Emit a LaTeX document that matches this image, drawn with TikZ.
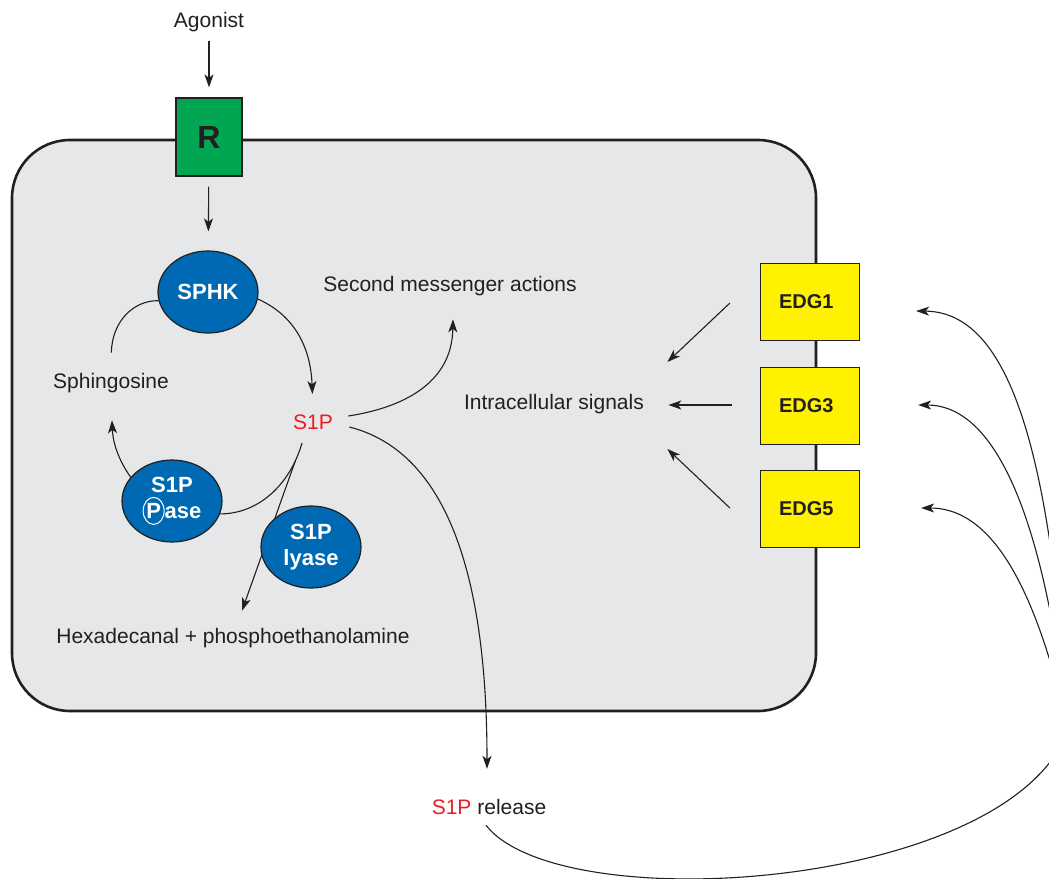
\documentclass[tikz,border=0pt]{standalone}
\usepackage{fontspec}
\setmainfont{Liberation Sans}
\usepackage{tikz}
\usetikzlibrary{arrows.meta,calc,shapes.geometric}
\definecolor{ink}{HTML}{231F20}
\definecolor{cellgray}{HTML}{E6E7E8}
\definecolor{rgreen}{HTML}{00A651}
\definecolor{eblue}{HTML}{0069B4}
\definecolor{edgyellow}{HTML}{FFF200}
\definecolor{s1pred}{HTML}{ED1C24}
\tikzset{>={Stealth[length=13pt,width=9pt,inset=3.5pt]}}
\tikzstyle{txt}=[text=ink, font=\fontsize{21}{25}\selectfont]
\tikzstyle{enzyme}=[
	 ellipse, draw=ink, line width=1.2pt,
	 fill=eblue, text=white,
	 minimum width=100pt, minimum height=82pt, inner sep=0pt,
	 align=center, font=\bfseries\fontsize{22}{26}\selectfont
    ]
\tikzstyle{receptor}=[
	 rectangle, draw=ink, line width=1.2pt,
	 fill=edgyellow, text=ink,
	 minimum width=99pt, minimum height=77pt,
	 font=\bfseries\fontsize{20}{24}\selectfont
    ]
\tikzstyle{flow}=[->, draw=ink, line width=1.1pt]
\tikzstyle{link}=[draw=ink, line width=1.1pt]
\newcommand{\circP}{\tikz[baseline=(cp.base)]\node[ellipse,draw=white,line width=1pt,text=white,inner sep=0pt,minimum width=21pt,minimum height=27pt,font=\bfseries\fontsize{22}{26}\selectfont] (cp) {P};}
\newcommand{\edgSig}[3]{\draw[flow] ($(#1.west)+(#2)$) -- ($(sig.east)+(#3)$)}

\begin{document}
\begin{tikzpicture}[x=1pt,y=-1pt]
\useasboundingbox (0,0) rectangle (1049,878);
\clip (0,0) rectangle (1049,878);

\draw[fill=cellgray, draw=ink, line width=2.6pt, rounded corners=58pt] (12,140) rectangle (816,711);

\node[txt] (ago) at (209,22) {Agonist};
\node[receptor, fill=rgreen, minimum width=66pt, minimum height=78pt, font=\bfseries\fontsize{32}{36}\selectfont] (R) at (209,137) {R};
\node[enzyme] (SPHK) at (208,292) {SPHK};
\node[txt] (sph) at (111,383) {Sphingosine};
\node[txt, text=s1pred] (s1p) at (313,422) {S1P};
\node[enzyme] (pase) at (172,501) {S1P\\\circP ase};
\node[txt] (hex) at (233,638) {Hexadecanal + phosphoethanolamine};
\node[txt] (msg) at (450,286) {Second messenger actions};
\node[txt] (sig) at (554,404) {Intracellular signals};
\node[receptor, text width=62pt] (E1) at (810,302) {EDG1};
\node[receptor, text width=62pt] (E3) at (810,406) {EDG3};
\node[receptor, text width=62pt] (E5) at (810,509) {EDG5};
\node[txt] (rel) at (489,807) {\textcolor{s1pred}{S1P} release};
\coordinate (hub) at (1068,730);

\draw[flow, shorten <=6pt, shorten >=10pt] (ago) -- (R);
\draw[flow, shorten <=10pt, shorten >=19pt] (R) -- (SPHK);
\draw[flow, shorten >=17pt] (SPHK.-8) .. controls (300,318) and (311,355) .. (s1p.north);
\draw[link, shorten <=17pt] (sph.north) .. controls (112,320) and (135,300) .. (SPHK.190);
\draw[flow, shorten >=24pt] (pase.150) .. controls (120,462) and (113,445) .. (sph.south);
\draw[link] ($(s1p.south)+(-11,10)$) .. controls (290,485) and (258,514) .. coordinate[pos=0.15] (br) (pase.-15);
\draw[flow] (br) -- ($(hex.north)+(9,-14)$);
\node[enzyme] (lyase) at (311,547) {S1P\\lyase};

\draw[flow] ($(s1p.east)+(12,-6)$) .. controls (400,408) and (452,385) .. ($(msg.south)+(3,20)$);
\draw[flow] ($(s1p.east)+(13,5)$) .. controls (440,450) and (487,560) .. ($(rel.north)+(-2,-27)$);

\edgSig{E1}{-30,1}{20,-42};
\edgSig{E3}{-28,-1}{21,1};
\edgSig{E5}{-30,-1}{20,45};

\draw[link] ($(rel.south)+(-3,7)$) .. controls (560,920) and (1010,890) .. (hub);
\draw[flow] (hub) .. controls (1050,420) and (1000,312) .. ($(E1.east)+(56,9)$);
\draw[flow] (hub) .. controls (1042,500) and (990,405) .. ($(E3.east)+(58,-1)$);
\draw[flow] (hub) .. controls (1032,570) and (985,508) .. ($(E5.east)+(61,-1)$);

\end{tikzpicture}
\end{document}
